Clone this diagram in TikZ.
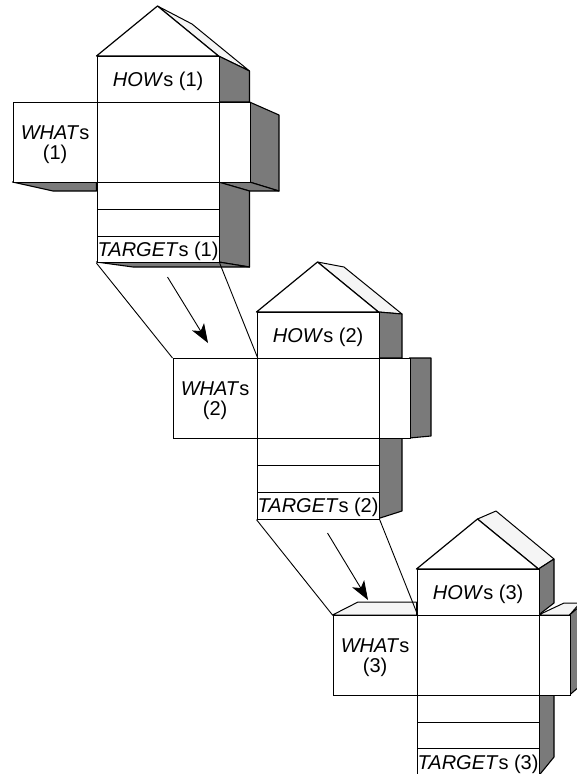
\documentclass[tikz,border=0pt]{standalone}
\usepackage{fontspec}
\setmainfont{Liberation Sans}
\usetikzlibrary{arrows.meta}
\tikzset{
  every picture/.style={x=1pt,y=-1pt},
  panel/.style={draw=black,fill=white,line width=1.2pt,inner sep=0pt,anchor=north west},
  paneltext/.style={inner sep=0pt,align=center,font=\fontsize{20}{20}\selectfont},
  shade3d/.style={draw=black,fill=black!52,line width=1.1pt,line join=round},
  light3d/.style={draw=black,fill=black!4,line width=1pt,line join=round},
  roof/.style={draw=black,fill=white,line width=1.2pt,line join=round},
  link/.style={draw=black,line width=0.9pt},
  flow/.style={draw=black,line width=0.9pt,-{Stealth[length=19pt,width=14pt,inset=5pt]}}
}
\newcommand{\panelbox}[5]{\node[panel,minimum width={(#4-#2)*1pt},minimum height={(#5-#3)*1pt}] (#1) at (#2,#3) {};}
\newcommand{\paneltag}[3]{\node[paneltext] (#1) at ([yshift=-2pt]#2.center) {#3};}
\begin{document}
\begin{tikzpicture}
\useasboundingbox (0,0) rectangle (577,774);
% house 1
\draw[light3d] (157.5,6) -- (192,24) -- (249.5,71) -- (218.5,56) -- cycle;
\draw[shade3d] (218.5,56) -- (249.5,71) -- (249.5,102) -- (218.5,102) -- cycle;
\draw[shade3d] (249.5,102) -- (279,115) -- (279,191) -- (249.5,182) -- cycle;
\draw[shade3d] (218.5,182) -- (249.5,191) -- (279,191) -- (249.5,182) -- cycle;
\draw[shade3d] (218.5,182) -- (249.5,191) -- (249.5,267) -- (218.5,262) -- cycle;
\draw[shade3d] (96.5,262) -- (133,267) -- (249.5,267) -- (218.5,262) -- cycle;
\draw[shade3d] (12.5,182) -- (53,191) -- (96.5,191) -- (96.5,182) -- cycle;
\draw[roof] (96.5,56) -- (157.5,6) -- (218.5,56) -- cycle;
\panelbox{how1}{96.5}{56}{218.5}{102}
\panelbox{what1}{12.5}{102}{96.5}{182}
\panelbox{main1}{96.5}{102}{218.5}{182}
\panelbox{side1}{218.5}{102}{249.5}{182}
\panelbox{rowa1}{96.5}{182}{218.5}{209}
\panelbox{rowb1}{96.5}{209}{218.5}{235.5}
\panelbox{tgt1}{96.5}{235.5}{218.5}{262}
\paneltag{howt1}{how1}{\textit{HOW}s (1)}
\paneltag{whatt1}{what1}{\textit{WHAT}s\\(1)}
\paneltag{tgtt1}{tgt1}{\textit{TARGET}s (1)}
% house 2
\draw[light3d] (317.5,262) -- (344,267) -- (402,314) -- (378.5,312) -- cycle;
\draw[shade3d] (378.5,312) -- (402,314) -- (402,358) -- (378.5,358) -- cycle;
\draw[shade3d] (409.5,358) -- (431,358) -- (431,436) -- (409.5,438) -- cycle;
\draw[shade3d] (378.5,438) -- (402,438) -- (402,511) -- (378.5,518.5) -- cycle;
\draw[roof] (256.5,312) -- (317.5,262) -- (378.5,312) -- cycle;
\panelbox{how2}{256.5}{312}{378.5}{358}
\panelbox{what2}{172.5}{358}{256.5}{438}
\panelbox{main2}{256.5}{358}{378.5}{438}
\panelbox{side2}{378.5}{358}{409.5}{438}
\panelbox{rowa2}{256.5}{438}{378.5}{465}
\panelbox{rowb2}{256.5}{465}{378.5}{491.5}
\panelbox{tgt2}{256.5}{491.5}{378.5}{518.5}
\paneltag{howt2}{how2}{\textit{HOW}s (2)}
\paneltag{whatt2}{what2}{\textit{WHAT}s\\(2)}
\paneltag{tgtt2}{tgt2}{\textit{TARGET}s (2)}
% house 3
\draw[light3d] (477.5,519) -- (496,511) -- (554,559) -- (538.5,569) -- cycle;
\draw[shade3d] (538.5,569) -- (554,559) -- (554,603) -- (538.5,615) -- cycle;
\draw[light3d] (332.5,615) -- (358,602) -- (416.5,602) -- (416.5,615) -- cycle;
\draw[light3d] (538.5,615) -- (564,603) -- (580,603) -- (569.5,615) -- cycle;
\draw[shade3d] (569.5,615) -- (580,606) -- (580,686) -- (569.5,695) -- cycle;
\draw[shade3d] (538.5,695) -- (554,695) -- (554,757) -- (538.5,776) -- cycle;
\draw[roof] (416.5,569) -- (477.5,519) -- (538.5,569) -- cycle;
\panelbox{how3}{416.5}{569}{538.5}{615}
\panelbox{what3}{332.5}{615}{416.5}{695}
\panelbox{main3}{416.5}{615}{538.5}{695}
\panelbox{side3}{538.5}{615}{569.5}{695}
\panelbox{rowa3}{416.5}{695}{538.5}{721.5}
\panelbox{rowb3}{416.5}{721.5}{538.5}{748}
\panelbox{tgt3}{416.5}{748}{538.5}{776}
\paneltag{howt3}{how3}{\textit{HOW}s (3)}
\paneltag{whatt3}{what3}{\textit{WHAT}s\\(3)}
\paneltag{tgtt3}{tgt3}{\textit{TARGET}s (3)}
% connectors
\draw[link] (tgt1.south west) -- (what2.north west);
\draw[link] (tgt1.south east) -- (what2.north east);
\draw[link] (tgt2.south west) -- (what3.north west);
\draw[link] (tgt2.south east) -- (what3.north east);
\coordinate (f1s) at (167.5,277); \coordinate (f1e) at (208,343);
\coordinate (f2s) at (327.5,533); \coordinate (f2e) at (368,600);
\draw[flow] (f1s) -- (f1e);
\draw[flow] (f2s) -- (f2e);
\end{tikzpicture}
\end{document}
